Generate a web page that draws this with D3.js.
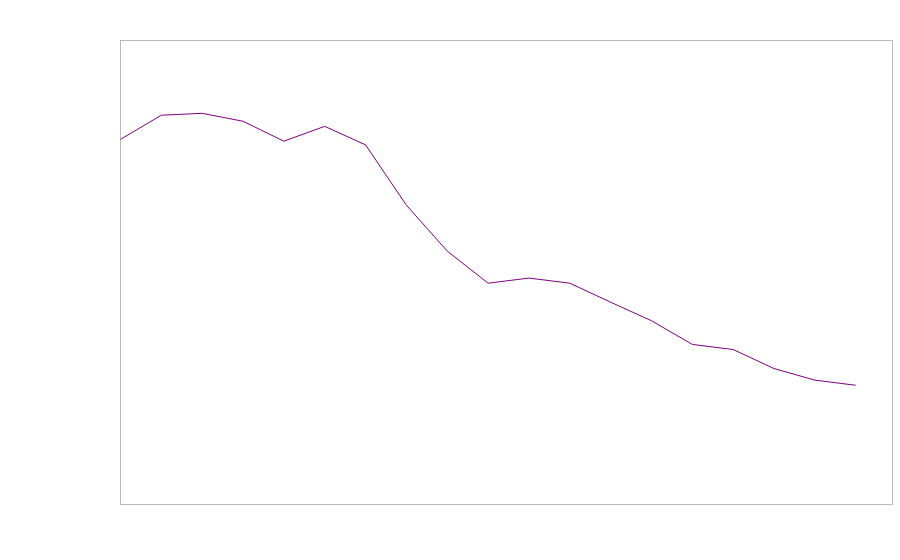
<!DOCTYPE html>
<html>
<head>
<meta charset="utf-8">
<script src="https://cdn.jsdelivr.net/npm/d3@7/dist/d3.min.js"></script>
<style>
html, body { margin: 0; padding: 0; background: #fff; }
svg { display: block; }
</style>
</head>
<body>
<svg id="chart" width="900" height="560"></svg>
<script>
const categories = d3.range(19);
const values = [78.7, 83.9, 84.3, 82.6, 78.3, 81.5, 77.5, 64.5, 54.6, 47.7, 48.8, 47.7, 43.6, 39.6, 34.5, 33.4, 29.3, 26.8, 25.7];

const svg = d3.select("#chart");
const margin = { left: 120.5, top: 40.5, right: 7.5, bottom: 55.5 };
const W = 900, H = 560;
const innerW = W - margin.left - margin.right;
const innerH = H - margin.top - margin.bottom;

const x = d3.scaleLinear().domain([0, 18.9]).range([margin.left, margin.left + innerW]);
const y = d3.scaleLinear().domain([0, 100]).range([margin.top + innerH, margin.top]);

svg.append("rect")
  .attr("x", margin.left).attr("y", margin.top)
  .attr("width", innerW).attr("height", innerH)
  .attr("fill", "none").attr("stroke", "#bbbbbb").attr("stroke-width", 1);

const line = d3.line().x((d, i) => x(categories[i])).y(d => y(d));

svg.append("path")
  .datum(values)
  .attr("d", line)
  .attr("fill", "none")
  .attr("stroke", "#800080")
  .attr("stroke-width", 1);
</script>
</body>
</html>
